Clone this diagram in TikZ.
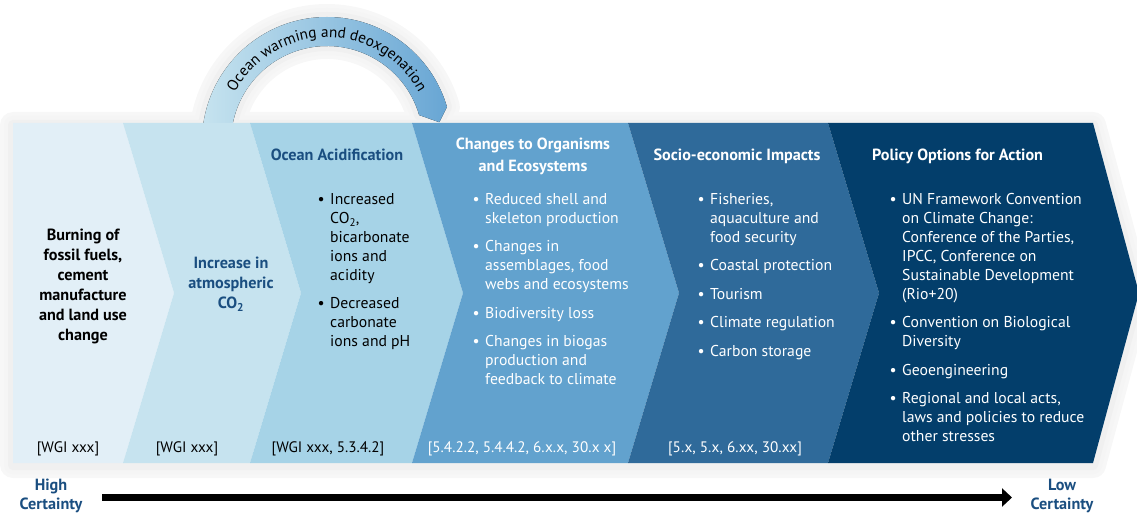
\documentclass[tikz,border=0pt]{standalone}
\usepackage{fontspec}
\setmainfont{PT Sans}
\usetikzlibrary{arrows.meta,calc,decorations.text}
\definecolor{pA}{HTML}{E2EFF7}
\definecolor{pB}{HTML}{C6E3EF}
\definecolor{pC}{HTML}{A6D3E7}
\definecolor{pD}{HTML}{62A2CE}
\definecolor{pE}{HTML}{2F6A9A}
\definecolor{pF}{HTML}{033E6B}
\definecolor{ttl}{HTML}{1A4E80}
\definecolor{arcR}{HTML}{68A6D4}
\newcommand\myfs[2]{\fontsize{#1}{#2}\selectfont}
\newcommand\bul{\llap{\textbullet\hspace{5.5pt}}}
\begin{document}
\begin{tikzpicture}[x=1pt,y=-1pt,
  body/.style={inner sep=0pt, align=left, font=\myfs{15.7}{19}},
  ttlbox/.style={inner sep=0pt, align=center, font=\bfseries\myfs{16.2}{19}},
  refl/.style={inner sep=0pt, anchor=base, font=\myfs{15.2}{19}},
  halo/.style={line join=round, yshift=-2pt}]
\useasboundingbox (0,0) rectangle (1137,516);
\coordinate (C) at (327,142);
% halos
\foreach \w/\c in {26/3,18/4,10/6}{
  \draw[halo, black!\c, line width=\w pt] ($(C)+(180:125)$) arc[start angle=180, end angle=343.7, radius=125]
     -- ($(C)+(350:114)$) -- ($(C)+(343.7:96)$) arc[start angle=343.7, end angle=180, radius=96] -- cycle;
  \draw[halo, black!\c, line width=\w pt] (13,123) -- (1093,123) -- (1139,293) -- (1093,463) -- (13,463) -- cycle;
}
% arc
\fill[left color=pB, right color=arcR] ($(C)+(180:125)$) arc[start angle=180, end angle=343.7, radius=125]
     -- ($(C)+(350:114)$) -- ($(C)+(343.7:96)$) arc[start angle=343.7, end angle=180, radius=96] -- cycle;
\path[decorate, decoration={text along path, text align=center,
   text={|\myfs{15.3}{15}|Ocean warming and deoxgenation}}]
   ($(C)+(190:104.5)$) arc[start angle=190, end angle=350, radius=104.5];
% panels
\fill[pA] (13,123) -- (123,123) -- (174,293) -- (123,463) -- (13,463) -- cycle;
\fill[pB] (123,123) -- (250,123) -- (301,293) -- (250,463) -- (123,463) -- (174,293) -- cycle;
\fill[pC] (250,123) -- (412,123) -- (463,293) -- (412,463) -- (250,463) -- (301,293) -- cycle;
\fill[pD] (412,123) -- (628,123) -- (679,293) -- (628,463) -- (412,463) -- (463,293) -- cycle;
\fill[pE] (628,123) -- (828,123) -- (879,293) -- (828,463) -- (628,463) -- (679,293) -- cycle;
\fill[pF] (828,123) -- (1093,123) -- (1139,293) -- (1093,463) -- (828,463) -- (879,293) -- cycle;
% panel 1
\node[ttlbox, anchor=north, font=\bfseries\myfs{16.2}{20}] (burn) at (83,229)
  {Burning of\\fossil fuels,\\cement\\manufacture\\and land use\\change};
% panel 2
\node[ttlbox, anchor=north, text=ttl, font=\bfseries\myfs{16.2}{20}] (incr) at (231,257)
  {Increase in\\atmospheric\\CO\textsubscript{2}};
% panel 3
\node[ttlbox, anchor=base, text=ttl] (oat) at (337,160) {Ocean Acidification};
\node[body, anchor=north west] (oab) at (330,193)
  {\bul Increased\\CO\textsubscript{2},\\bicarbonate\\ions and\\acidity\\[9.5pt]\bul Decreased\\carbonate\\ions and pH};
% panel 4
\node[ttlbox, anchor=north, text=white, font=\bfseries\myfs{16.2}{22}] (cot) at (533,138)
  {Changes to Organisms\\and Ecosystems};
\node[body, anchor=north west, text=white] (cob) at (485,193)
  {\bul Reduced shell and\\skeleton production\\[9.5pt]\bul Changes in\\assemblages, food\\webs and ecosystems\\[9.5pt]\bul Biodiversity loss\\[9.5pt]\bul Changes in biogas\\production and\\feedback to climate};
% panel 5
\node[ttlbox, anchor=base, text=white] (sot) at (737,160) {Socio-economic Impacts};
\node[body, anchor=north west, text=white] (sob) at (710,193)
  {\bul Fisheries,\\aquaculture and\\food security\\[9.5pt]\bul Coastal protection\\[9.5pt]\bul Tourism\\[9.5pt]\bul Climate regulation\\[9.5pt]\bul Carbon storage};
% panel 6
\node[ttlbox, anchor=base west, text=white] (pot) at (872,160) {Policy Options for Action};
\node[body, anchor=north west, text=white] (pob) at (902,193)
  {\bul UN Framework Convention\\on Climate Change:\\Conference of the Parties,\\IPCC, Conference on\\Sustainable Development\\(Rio+20)\\[9.5pt]\bul Convention on Biological\\Diversity\\[9.5pt]\bul Geoengineering\\[9.5pt]\bul Regional and local acts,\\laws and policies to reduce\\other stresses};
% references
\node[refl] (r1) at (68,452) {[WGI xxx]};
\node[refl] (r2) at (187,452) {[WGI xxx]};
\node[refl] (r3) at (328,452) {[WGI xxx, 5.3.4.2]};
\node[refl, text=white] (r4) at (522,452) {[5.4.2.2, 5.4.4.2, 6.x.x, 30.x x]};
\node[refl, text=white] (r5) at (735,452) {[5.x, 5.x, 6.xx, 30.xx]};
% certainty
\node[ttlbox, anchor=north, text=ttl] (hi) at (51,479) {High\\Certainty};
\node[ttlbox, anchor=north, text=ttl] (lo) at (1062,479) {Low\\Certainty};
\coordinate (arS) at (102,497.5);
\coordinate (arE) at (1012,497.5);
\draw[line width=7pt, -{Triangle[length=10pt,width=18pt]}] (arS) -- (arE);
\end{tikzpicture}
\end{document}
